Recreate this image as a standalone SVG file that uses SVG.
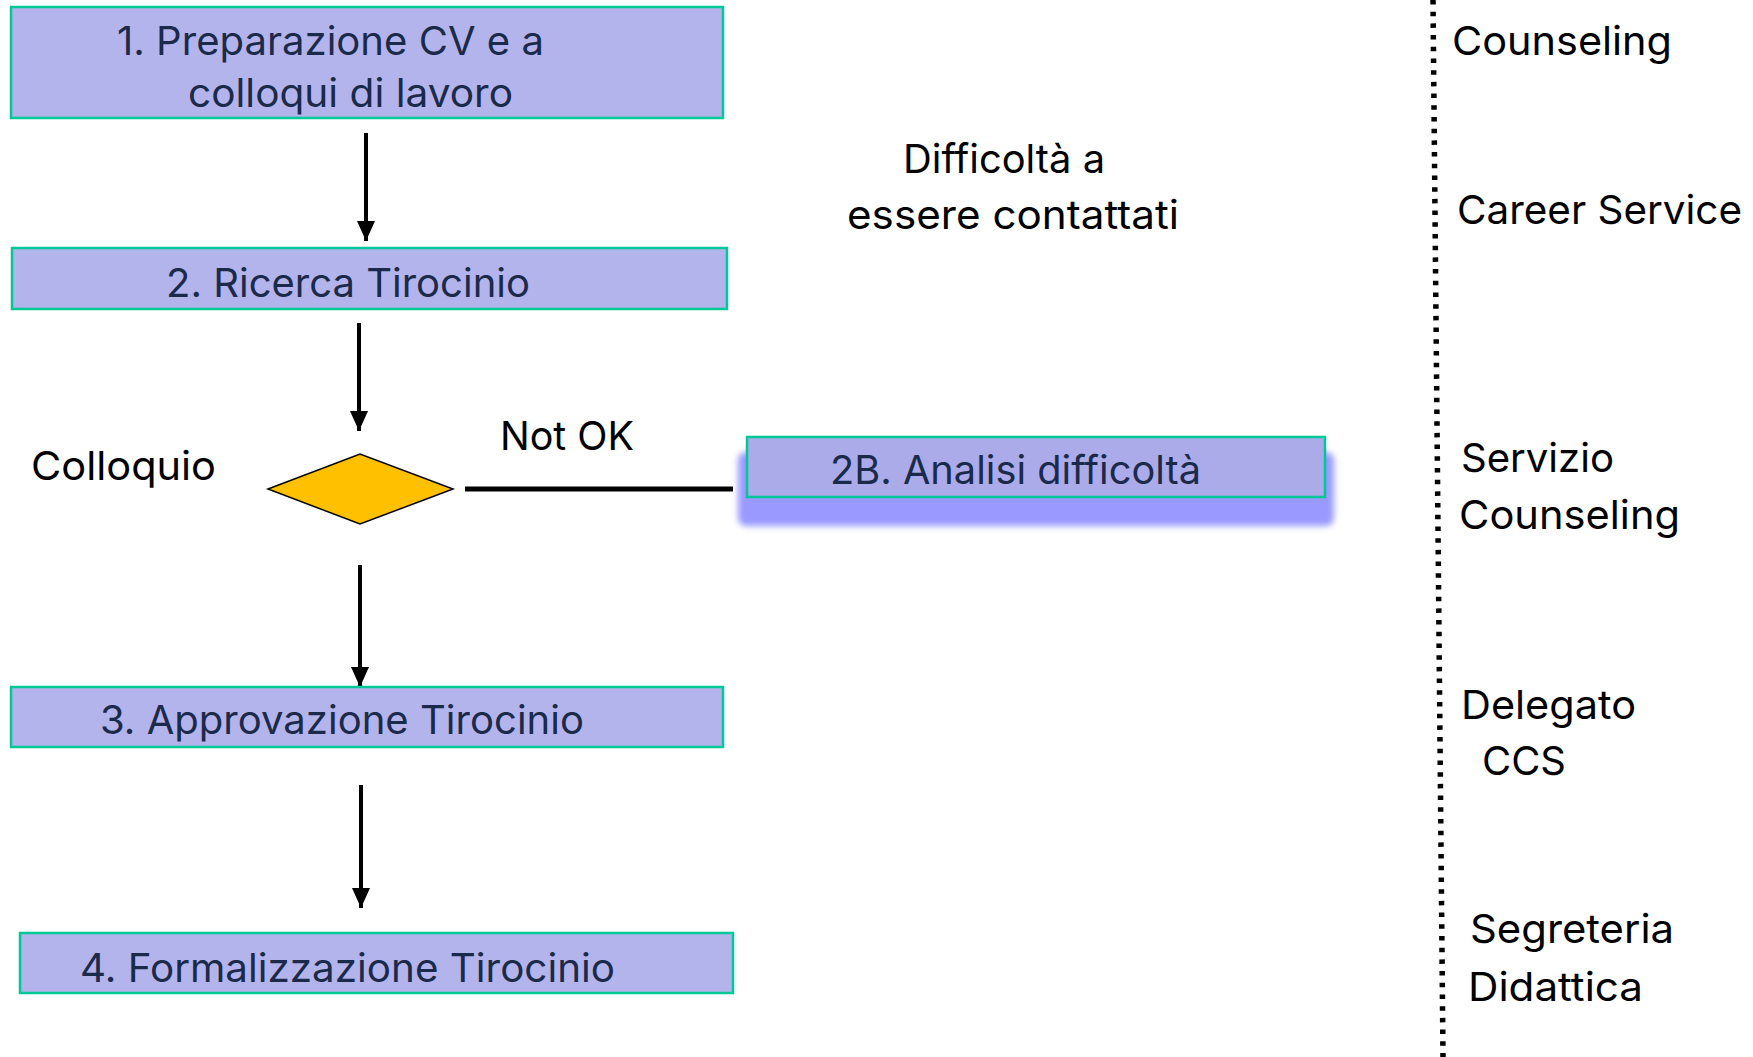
<svg xmlns="http://www.w3.org/2000/svg" width="1753" height="1057" viewBox="0 0 1753 1057">
<style>
.box{fill:#B4B4EC;stroke:#00C896;stroke-width:2.5}
.bt{font-family:Inter,"Liberation Sans",sans-serif;font-size:39px;fill:#1B2A4A}
.lt{font-family:Inter,"Liberation Sans",sans-serif;font-size:40px;fill:#000}
.con{stroke:#000;stroke-width:4;fill:none}
</style>
<defs>
<marker id="ah" markerWidth="5" markerHeight="4.5" refX="5" refY="2.25" orient="auto" markerUnits="strokeWidth">
<path d="M0,0 L5,2.25 L0,4.5 Z" fill="#000"/>
</marker>
<filter id="blur" x="-10%" y="-50%" width="120%" height="200%">
<feGaussianBlur stdDeviation="3"/>
</filter>
</defs>
<rect width="1753" height="1057" fill="#fff"/>

<g id="connectors">
<line class="con" x1="366" y1="133" x2="366" y2="241" marker-end="url(#ah)"/>
<line class="con" x1="359" y1="323" x2="359" y2="431" marker-end="url(#ah)"/>
<line class="con" x1="360" y1="565" x2="360" y2="687" marker-end="url(#ah)"/>
<line class="con" x1="361" y1="785" x2="361" y2="908" marker-end="url(#ah)"/>
<line x1="465" y1="489" x2="733" y2="489" stroke="#000" stroke-width="5"/>
<line x1="1433" y1="0" x2="1443" y2="1057" stroke="#000" stroke-width="5.5" stroke-dasharray="4.5 7.2"/>
</g>

<g id="n1">
<rect class="box" x="11" y="7" width="712" height="111"/>
<text class="bt" x="117" y="55" textLength="427" lengthAdjust="spacingAndGlyphs">1. Preparazione CV e a</text>
<text class="bt" x="188" y="107" textLength="325" lengthAdjust="spacingAndGlyphs">colloqui di lavoro</text>
</g>

<g id="n2">
<rect class="box" x="12" y="248" width="715" height="61"/>
<text class="bt" x="166" y="297" textLength="364" lengthAdjust="spacingAndGlyphs">2. Ricerca Tirocinio</text>
</g>

<g id="decision">
<polygon points="268,489 360,454 453,489 360,524" fill="#FFC000" stroke="#000" stroke-width="1.5"/>
<text class="lt" x="31" y="480" textLength="185" lengthAdjust="spacingAndGlyphs">Colloquio</text>
<text class="lt" x="500" y="450" textLength="134" lengthAdjust="spacingAndGlyphs">Not OK</text>
</g>

<g id="n2b">
<rect x="738" y="452" width="596" height="74" rx="8" fill="#9999FF" filter="url(#blur)"/>
<rect x="747" y="437" width="578" height="60" fill="#ABABEA" stroke="#00C896" stroke-width="2.5"/>
<text class="bt" x="830" y="484" textLength="371" lengthAdjust="spacingAndGlyphs">2B. Analisi difficoltà</text>
</g>

<g id="note">
<text class="lt" x="903" y="173" textLength="202" lengthAdjust="spacingAndGlyphs">Difficoltà a</text>
<text class="lt" x="847" y="229" textLength="332" lengthAdjust="spacingAndGlyphs">essere contattati</text>
</g>

<g id="n3">
<rect class="box" x="11" y="687" width="712" height="60"/>
<text class="bt" x="100" y="734" textLength="484" lengthAdjust="spacingAndGlyphs">3. Approvazione Tirocinio</text>
</g>

<g id="n4">
<rect class="box" x="20" y="933" width="713" height="60"/>
<text class="bt" x="80" y="982" textLength="535" lengthAdjust="spacingAndGlyphs">4. Formalizzazione Tirocinio</text>
</g>

<g id="roles">
<text class="lt" x="1452" y="55" textLength="220" lengthAdjust="spacingAndGlyphs">Counseling</text>
<text class="lt" x="1457" y="224" textLength="285" lengthAdjust="spacingAndGlyphs">Career Service</text>
<text class="lt" x="1461" y="472" textLength="153" lengthAdjust="spacingAndGlyphs">Servizio</text>
<text class="lt" x="1459" y="529" textLength="221" lengthAdjust="spacingAndGlyphs">Counseling</text>
<text class="lt" x="1461" y="719" textLength="175" lengthAdjust="spacingAndGlyphs">Delegato</text>
<text class="lt" x="1482" y="775" textLength="84" lengthAdjust="spacingAndGlyphs">CCS</text>
<text class="lt" x="1470" y="943" textLength="204" lengthAdjust="spacingAndGlyphs">Segreteria</text>
<text class="lt" x="1468" y="1001" textLength="175" lengthAdjust="spacingAndGlyphs">Didattica</text>
</g>
</svg>
